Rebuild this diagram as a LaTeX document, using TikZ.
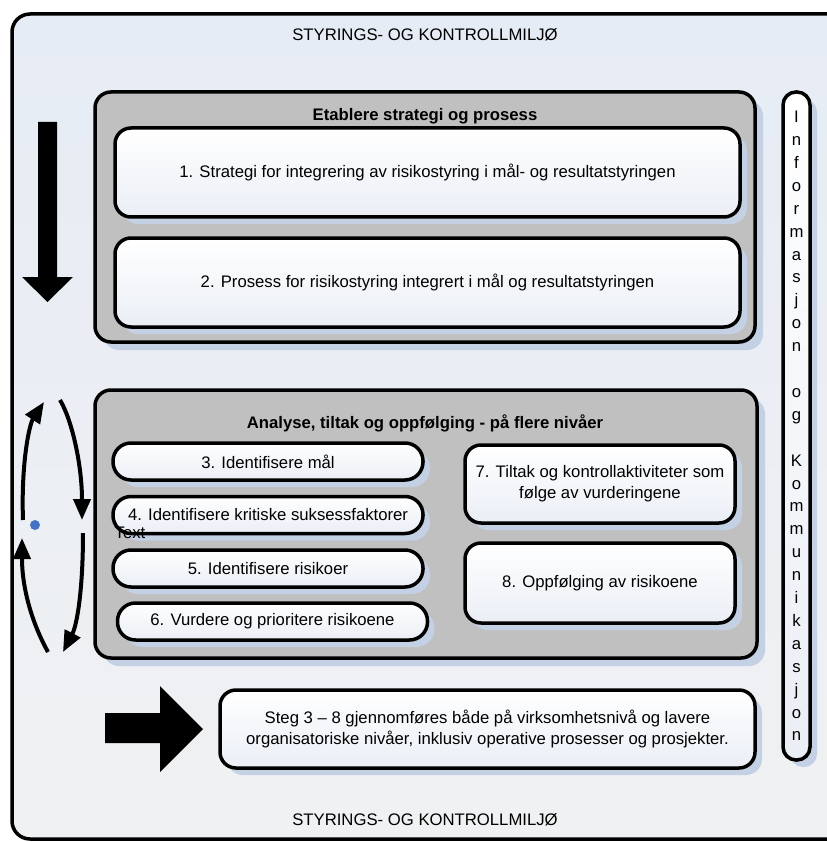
\documentclass[tikz,border=0pt]{standalone}
\usepackage{fontspec}
\setmainfont{Liberation Sans}
\usetikzlibrary{shadows,arrows.meta}
\definecolor{bgtop}{RGB}{230,236,245}
\definecolor{bgbottom}{RGB}{240,241,242}
\definecolor{panelgray}{RGB}{192,192,192}
\definecolor{shadowblue}{RGB}{196,208,228}
\definecolor{boxbottom}{RGB}{234,238,245}
\definecolor{dotblue}{RGB}{68,114,196}

\begin{document}
\begin{tikzpicture}[x=1pt,y=-1pt,
           every node/.style = {font=\fontsize{16.7}{21}\selectfont, align=center, inner sep=0pt},
           frame/.style = {draw, line width=3.5pt, rounded corners=16pt},
           panel/.style = {frame, fill=panelgray,
             drop shadow={shadow xshift=8pt, shadow yshift=-8pt, fill=shadowblue, opacity=1}},
           stepbox/.style = {frame, top color=white, bottom color=boxbottom,
             drop shadow={shadow xshift=7pt, shadow yshift=-7pt, fill=shadowblue, opacity=1}},
           pill/.style = {stepbox, rounded corners=18pt, minimum width=310pt, minimum height=37pt},
           title/.style = {font=\fontsize{16.7}{21}\selectfont\bfseries},
           cyclearrow/.style = {line width=4pt, -{Triangle[width=17pt,length=21pt]}}]
        \useasboundingbox (0,0) rectangle (826,842);
        \draw[line width=3.5pt, rounded corners=18pt, top color=bgtop, bottom color=bgbottom]
          (12,14) rectangle (870,839);
        \node (miljotop) at (425,35) {STYRINGS- OG KONTROLLMILJØ};
        \node (miljobot) at (425,820) {STYRINGS- OG KONTROLLMILJØ};
        % etablere
        \node[panel, minimum width=660pt, minimum height=250pt] (etablere) at (425,217) {};
        \node[title] (etabtitle) at (425,116) {Etablere strategi og prosess};
        \node[stepbox, minimum width=625pt, minimum height=89pt] (strategi) at (427.5,172.5)
          {1. Strategi for integrering av risikostyring i mål- og resultatstyringen};
        \node[stepbox, minimum width=625pt, minimum height=89pt] (prosess) at (427.5,282.5)
          {2. Prosess for risikostyring integrert i mål og resultatstyringen};
        % analyse
        \node[panel, minimum width=662pt, minimum height=268pt] (analyse) at (426,524) {};
        \node[title] (analysetitle) at (425,423) {Analyse, tiltak og oppfølging - på flere nivåer};
        \node[pill] (maal) at (268,461.5) {3. Identifisere mål};
        \node[pill] (faktor) at (268,515) {4. Identifisere kritiske suksessfaktorer};
        \node[pill] (risiko) at (268,568.5) {5. Identifisere risikoer};
        \node[pill] (vurdere) at (272.5,621.5) {6. Vurdere og prioritere risikoene};
        \node[stepbox, minimum width=270pt, minimum height=78pt] (tiltak) at (600,484)
          {7. Tiltak og kontrollaktiviteter som\\følge av vurderingene};
        \node[stepbox, minimum width=270pt, minimum height=80pt] (oppfolg) at (600,583)
          {8. Oppfølging av risikoene};
        \node[stepbox, minimum width=535pt, minimum height=78pt] (steg) at (487.5,729)
          {Steg 3 – 8 gjennomføres både på virksomhetsnivå og lavere\\organisatoriske nivåer, inklusiv operative prosesser og prosjekter.};
        \node[stepbox, rounded corners=13pt, minimum width=27pt, minimum height=668pt,
              font=\fontsize{16.7}{22.9}\selectfont] (info) at (796.5,426)
          {I\\n\\f\\o\\r\\m\\a\\s\\j\\o\\n\\\mbox{}\\o\\g\\\mbox{}\\K\\o\\m\\m\\u\\n\\i\\k\\a\\s\\j\\o\\n};
        % arrows
        \fill (38,122) -- (57,122) -- (57,277) -- (73,277) -- (47.5,302) -- (22,277) -- (38,277) -- cycle;
        \fill (105,713) -- (160,713) -- (160,686) -- (203,729) -- (160,772) -- (160,743) -- (105,743) -- cycle;
        \coordinate (upA) at (23,520);
        \coordinate (upB) at (44,402);
        \coordinate (downA) at (60,400);
        \coordinate (downB) at (82,520);
        \coordinate (downC) at (83,533);
        \coordinate (downD) at (63,652);
        \coordinate (upC) at (48,652);
        \coordinate (upD) at (22,538);
        \draw[cyclearrow] (upA) .. controls (21,465) and (29,425) .. (upB);
        \draw[cyclearrow] (downA) .. controls (72,420) and (82,465) .. (downB);
        \draw[cyclearrow] (downC) .. controls (83,590) and (77,625) .. (downD);
        \draw[cyclearrow] (upC) .. controls (33,625) and (22,590) .. (upD);
        \node[circle, fill=dotblue, minimum size=10pt] (dot) at (35,525) {};
        \node (txt) at (130,533) {Text};
\end{tikzpicture}
\end{document}
